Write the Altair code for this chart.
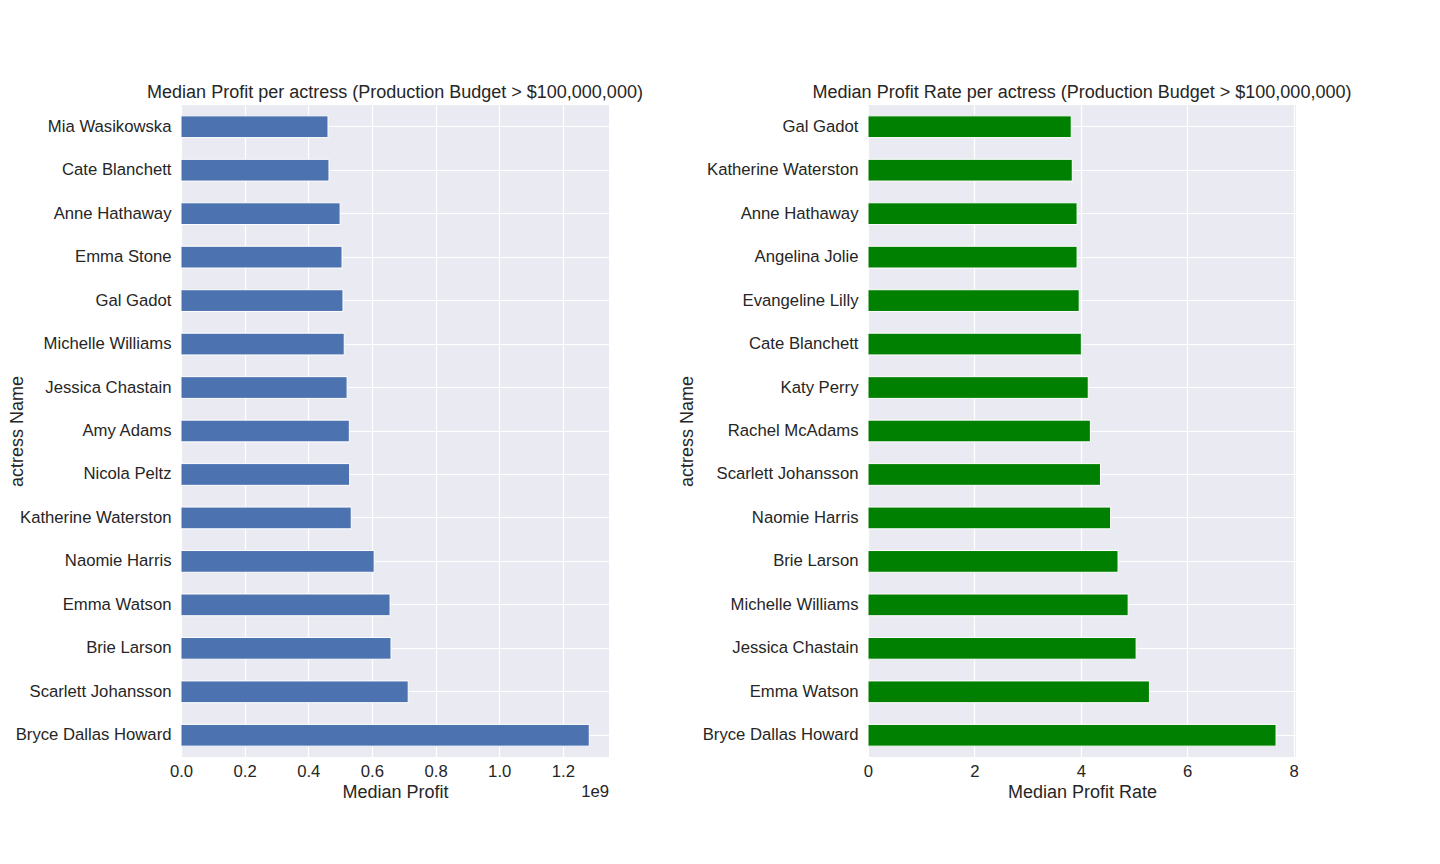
import altair as alt
import pandas as pd

profit_actresses = ["Mia Wasikowska", "Cate Blanchett", "Anne Hathaway", "Emma Stone", "Gal Gadot",
                    "Michelle Williams", "Jessica Chastain", "Amy Adams", "Nicola Peltz",
                    "Katherine Waterston", "Naomie Harris", "Emma Watson", "Brie Larson",
                    "Scarlett Johansson", "Bryce Dallas Howard"]
profit_values = [462e6, 465e6, 500e6, 506e6, 509e6, 513e6, 522e6, 529e6, 530e6, 535e6,
                 607e6, 657e6, 660e6, 714e6, 1283e6]

rate_actresses = ["Gal Gadot", "Katherine Waterston", "Anne Hathaway", "Angelina Jolie",
                  "Evangeline Lilly", "Cate Blanchett", "Katy Perry", "Rachel McAdams",
                  "Scarlett Johansson", "Naomie Harris", "Brie Larson", "Michelle Williams",
                  "Jessica Chastain", "Emma Watson", "Bryce Dallas Howard"]
rate_values = [3.82, 3.84, 3.93, 3.93, 3.97, 4.01, 4.14, 4.18, 4.37, 4.56, 4.70, 4.89,
               5.04, 5.29, 7.67]

profit_ticks = [0, 0.2e9, 0.4e9, 0.6e9, 0.8e9, 1.0e9, 1.2e9]
rate_ticks = [0, 2, 4, 6, 8]
offset_text = ["1e9"]

df_profit = pd.DataFrame({"actress": profit_actresses, "profit": profit_values})
df_rate = pd.DataFrame({"actress": rate_actresses, "rate": rate_values})
df_offset = pd.DataFrame({"t": offset_text})

W, H = 428, 652
FONT = "Liberation Sans"
TXT = "#262626"
LBL = 16.7
TTL = 18

ysc = alt.Scale(paddingInner=0.5, paddingOuter=0.25)


def yaxis(title_x=None):
    kw = dict(title="actress Name", bandPosition=0.5, labelPadding=10, titlePadding=6,
              labelLimit=300)
    if title_x is not None:
        kw["titleX"] = title_x
    return alt.Axis(**kw)


def xaxis(title, values, **kw):
    return alt.Axis(title=title, values=values, labelPadding=6, titlePadding=4,
                    labelFlush=False, **kw)


left_bars = alt.Chart(df_profit).mark_bar(color="#4C72B0", stroke="white", strokeWidth=1).encode(
    x=alt.X("profit:Q", scale=alt.Scale(domain=[0, 1.345e9], nice=False, zero=True),
            axis=xaxis("Median Profit", profit_ticks,
                       labelExpr="format(datum.value / 1e9, '.1f')")),
    y=alt.Y("actress:N", sort=profit_actresses, scale=ysc, axis=yaxis(-155)),
)
left_exp = alt.Chart(df_offset).mark_text(align="right", baseline="middle", fontSize=LBL,
                                          font=FONT, color=TXT).encode(
    x=alt.value(W), y=alt.value(H + 35), text="t:N"
)
left = alt.layer(left_bars, left_exp).properties(
    width=W, height=H,
    title=alt.TitleParams("Median Profit per actress (Production Budget > $100,000,000)"),
)

right = alt.Chart(df_rate).mark_bar(color="#008000", stroke="white", strokeWidth=1).encode(
    x=alt.X("rate:Q", scale=alt.Scale(domain=[0, 8.045], nice=False, zero=True),
            axis=xaxis("Median Profit Rate", rate_ticks, format="d")),
    y=alt.Y("actress:N", sort=rate_actresses, scale=ysc, axis=yaxis()),
).properties(
    width=W, height=H,
    title=alt.TitleParams("Median Profit Rate per actress (Production Budget > $100,000,000)"),
)

chart = alt.hconcat(left, right, spacing=35).properties(
    padding={"left": 0, "top": 76, "right": 0, "bottom": 0},
).configure(
    font=FONT,
    background="white",
).configure_view(
    fill="#EAEAF2", stroke=None,
).configure_axis(
    domain=False, ticks=False, grid=True, gridColor="white", gridWidth=1.2, gridOpacity=1,
    labelFont=FONT, labelFontSize=LBL, labelColor=TXT,
    titleFont=FONT, titleFontSize=TTL, titleColor=TXT, titleFontWeight="normal",
).configure_title(
    font=FONT, fontSize=TTL, color=TXT, fontWeight="normal", anchor="middle", offset=3,
)

chart.save("out.html", embed_options={"renderer": "svg", "actions": False})
